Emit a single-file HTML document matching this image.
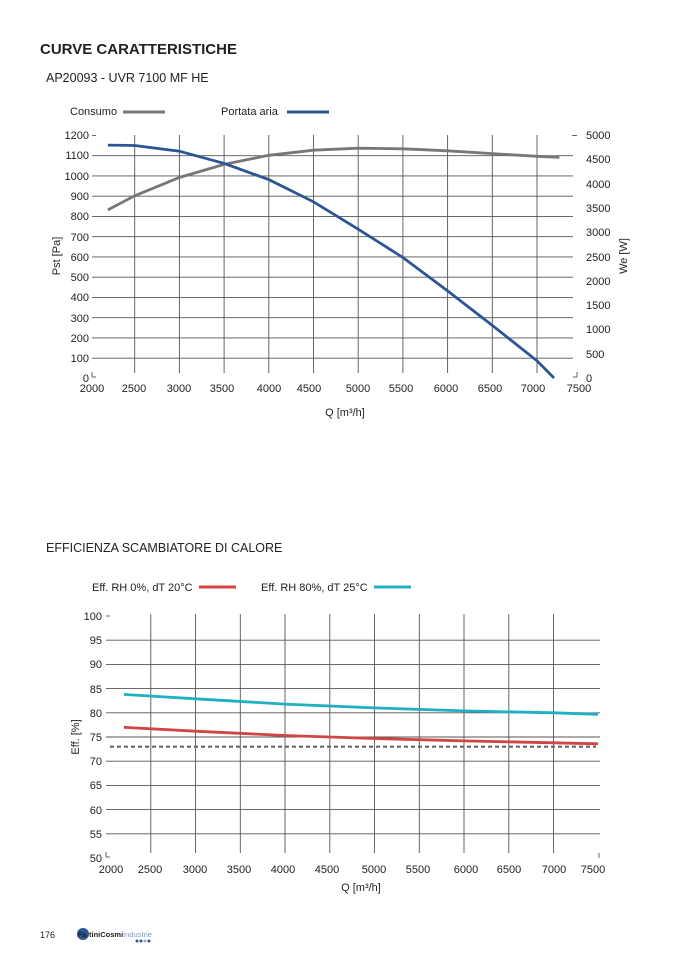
<!DOCTYPE html>
<html><head><meta charset="utf-8"><style>
body{margin:0;background:#fff}
svg text{font-family:"Liberation Sans",sans-serif;fill:#222}
</style></head><body>
<svg width="677" height="958" viewBox="0 0 677 958" xmlns="http://www.w3.org/2000/svg">
<text x="40" y="54" font-size="15" font-weight="bold" fill="#111">CURVE CARATTERISTICHE</text>
<text x="46" y="82" font-size="12.5">AP20093 - UVR 7100 MF HE</text>

<!-- chart 1 legend -->
<text x="70" y="115" font-size="11">Consumo</text>
<line x1="123" y1="112" x2="165" y2="112" stroke="#777" stroke-width="3"/>
<text x="221" y="115" font-size="11">Portata aria</text>
<line x1="287" y1="112" x2="329" y2="112" stroke="#2c5596" stroke-width="3"/>

<g stroke="#555" stroke-width="0.9">
<line x1="92" y1="155.7" x2="573" y2="155.7"/><line x1="92" y1="175.9" x2="573" y2="175.9"/>
<line x1="92" y1="196.2" x2="573" y2="196.2"/><line x1="92" y1="216.4" x2="573" y2="216.4"/>
<line x1="92" y1="236.7" x2="573" y2="236.7"/><line x1="92" y1="256.9" x2="573" y2="256.9"/>
<line x1="92" y1="277.2" x2="573" y2="277.2"/><line x1="92" y1="297.4" x2="573" y2="297.4"/>
<line x1="92" y1="317.7" x2="573" y2="317.7"/><line x1="92" y1="337.9" x2="573" y2="337.9"/>
<line x1="92" y1="358.2" x2="573" y2="358.2"/>
<line x1="134.7" y1="135" x2="134.7" y2="373"/><line x1="179.4" y1="135" x2="179.4" y2="373"/>
<line x1="224.1" y1="135" x2="224.1" y2="373"/><line x1="268.8" y1="135" x2="268.8" y2="373"/>
<line x1="313.5" y1="135" x2="313.5" y2="373"/><line x1="358.2" y1="135" x2="358.2" y2="373"/>
<line x1="402.9" y1="135" x2="402.9" y2="373"/><line x1="447.6" y1="135" x2="447.6" y2="373"/>
<line x1="492.3" y1="135" x2="492.3" y2="373"/><line x1="537" y1="135" x2="537" y2="373"/>
<line x1="92" y1="135.5" x2="96" y2="135.5"/><line x1="572" y1="135.5" x2="577" y2="135.5"/>
<line x1="92" y1="372" x2="92" y2="377"/><line x1="92" y1="377" x2="96" y2="377"/>
<line x1="577" y1="372" x2="577" y2="377"/><line x1="573" y1="377" x2="577" y2="377"/>
</g>
<g font-size="11" text-anchor="end">
<text x="89" y="139">1200</text><text x="89" y="159">1100</text><text x="89" y="180">1000</text>
<text x="89" y="200">900</text><text x="89" y="220">800</text><text x="89" y="241">700</text>
<text x="89" y="261">600</text><text x="89" y="281">500</text><text x="89" y="301">400</text>
<text x="89" y="322">300</text><text x="89" y="342">200</text><text x="89" y="362">100</text>
<text x="89" y="382">0</text>
</g>
<g font-size="11">
<text x="586" y="139">5000</text><text x="586" y="163">4500</text><text x="586" y="188">4000</text>
<text x="586" y="212">3500</text><text x="586" y="236">3000</text><text x="586" y="261">2500</text>
<text x="586" y="285">2000</text><text x="586" y="309">1500</text><text x="586" y="333">1000</text>
<text x="586" y="358">500</text><text x="586" y="382">0</text>
</g>
<g font-size="11" text-anchor="middle">
<text x="92" y="392">2000</text><text x="134" y="392">2500</text><text x="179" y="392">3000</text>
<text x="222" y="392">3500</text><text x="269" y="392">4000</text><text x="309" y="392">4500</text>
<text x="358" y="392">5000</text><text x="401" y="392">5500</text><text x="446" y="392">6000</text>
<text x="490" y="392">6500</text><text x="533" y="392">7000</text><text x="579" y="392">7500</text>
<text x="345" y="416">Q [m³/h]</text>
</g>
<text transform="translate(60,256) rotate(-90)" font-size="11" text-anchor="middle">Pst [Pa]</text>
<text transform="translate(627,256) rotate(-90)" font-size="11" text-anchor="middle">We [W]</text>

<polyline fill="none" stroke="#777" stroke-width="2.8" points="107.9,209.9 134.7,195.8 179.4,177.5 224.1,164.4 268.8,155.3 313.5,150.2 358.2,148.2 402.9,148.8 447.6,150.8 492.3,153.6 537,156.3 559.4,157.3"/>
<polyline fill="none" stroke="#2c5596" stroke-width="2.8" points="107.9,145.1 134.7,145.5 179.4,151.2 224.1,163.4 268.8,179.6 313.5,201.8 358.2,229.2 402.9,257.5 447.6,290.9 492.3,325.4 537,360.8 554,378"/>

<text x="46" y="552" font-size="12.5">EFFICIENZA SCAMBIATORE DI CALORE</text>

<!-- chart 2 -->
<text x="92" y="591" font-size="11">Eff. RH 0%, dT 20°C</text>
<line x1="199" y1="587" x2="236" y2="587" stroke="#d04545" stroke-width="3"/>
<text x="261" y="591" font-size="11">Eff. RH 80%, dT 25°C</text>
<line x1="374" y1="587" x2="411" y2="587" stroke="#1fb0c4" stroke-width="3"/>

<g stroke="#555" stroke-width="0.9">
<line x1="106" y1="640.2" x2="600" y2="640.2"/><line x1="106" y1="664.4" x2="600" y2="664.4"/>
<line x1="106" y1="688.6" x2="600" y2="688.6"/><line x1="106" y1="712.8" x2="600" y2="712.8"/>
<line x1="106" y1="737" x2="600" y2="737"/><line x1="106" y1="761.2" x2="600" y2="761.2"/>
<line x1="106" y1="785.4" x2="600" y2="785.4"/><line x1="106" y1="809.6" x2="600" y2="809.6"/>
<line x1="106" y1="833.8" x2="600" y2="833.8"/>
<line x1="150.8" y1="614" x2="150.8" y2="853"/><line x1="195.5" y1="614" x2="195.5" y2="853"/>
<line x1="240.3" y1="614" x2="240.3" y2="853"/><line x1="285" y1="614" x2="285" y2="853"/>
<line x1="329.8" y1="614" x2="329.8" y2="853"/><line x1="374.5" y1="614" x2="374.5" y2="853"/>
<line x1="419.3" y1="614" x2="419.3" y2="853"/><line x1="464" y1="614" x2="464" y2="853"/>
<line x1="508.8" y1="614" x2="508.8" y2="853"/><line x1="553.5" y1="614" x2="553.5" y2="853"/>
<line x1="106" y1="616" x2="110" y2="616"/>
<line x1="106" y1="852" x2="106" y2="857"/><line x1="106" y1="857" x2="110" y2="857"/>
<line x1="599" y1="853" x2="599" y2="858"/>
</g>
<g font-size="11" text-anchor="end">
<text x="102" y="620">100</text><text x="102" y="644">95</text><text x="102" y="668">90</text>
<text x="102" y="693">85</text><text x="102" y="717">80</text><text x="102" y="741">75</text>
<text x="102" y="765">70</text><text x="102" y="789">65</text><text x="102" y="814">60</text>
<text x="102" y="838">55</text><text x="102" y="862">50</text>
</g>
<g font-size="11" text-anchor="middle">
<text x="111" y="873">2000</text><text x="150" y="873">2500</text><text x="195" y="873">3000</text>
<text x="239" y="873">3500</text><text x="283" y="873">4000</text><text x="327" y="873">4500</text>
<text x="374" y="873">5000</text><text x="418" y="873">5500</text><text x="466" y="873">6000</text>
<text x="509" y="873">6500</text><text x="554" y="873">7000</text><text x="593" y="873">7500</text>
<text x="361" y="891">Q [m³/h]</text>
</g>
<text transform="translate(79,737) rotate(-90)" font-size="11" text-anchor="middle">Eff. [%]</text>

<line x1="110" y1="746.7" x2="596" y2="746.7" stroke="#666" stroke-width="2.2" stroke-dasharray="4,3"/>
<polyline fill="none" stroke="#1fb0c4" stroke-width="2.8" points="123.9,694.4 195.5,698.8 285,704.1 374.5,707.9 464,710.9 553.5,712.8 598,714.3"/>
<polyline fill="none" stroke="#d04545" stroke-width="2.8" points="123.9,727.3 195.5,731.2 285,735.5 374.5,738.5 464,740.9 553.5,742.8 598,743.8"/>

<text x="40" y="938" font-size="9">176</text>
<circle cx="83" cy="934" r="6" fill="#2c5596"/>
<text x="78" y="937" font-size="7" font-weight="bold" fill="#fff">Fa</text>
<text x="89" y="937" font-size="7.5" font-weight="bold" fill="#2c5596">tiniCosmi<tspan font-weight="normal" fill="#7a9cc8">Industrie</tspan></text>
<circle cx="137" cy="941" r="1.5" fill="#2c5596"/><circle cx="141" cy="941" r="1.5" fill="#2c5596"/><circle cx="145" cy="941" r="1.5" fill="#9ab"/><circle cx="149" cy="941" r="1.5" fill="#2c5596"/>
</svg>
</body></html>
